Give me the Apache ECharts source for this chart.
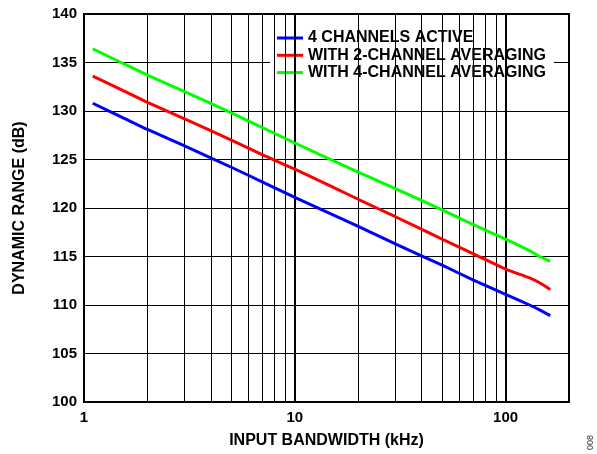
<!DOCTYPE html>
<html>
<head>
<meta charset="utf-8">
<script src="https://cdn.jsdelivr.net/npm/echarts@6/dist/echarts.min.js"></script>
<style>html,body{margin:0;padding:0;background:#fff}#c{width:597px;height:454px}</style>
</head>
<body>
<div id="c"></div>
<script>
// Data
const bandwidthKHz = [1.1, 1.5, 2, 3, 5, 7, 10, 20, 30, 50, 70, 100, 130, 145, 163];
const fourChannelsActive = [130.8, 129.4, 128.1, 126.4, 124.2, 122.7, 121.1, 118.1, 116.3, 114.1, 112.6, 111.1, 110.0, 109.5, 108.9];
const twoChannelAvg = [133.6, 132.2, 130.9, 129.2, 127.0, 125.5, 124.0, 120.9, 119.1, 116.8, 115.3, 113.7, 112.8, 112.3, 111.6];
const fourChannelAvg = [136.4, 135.0, 133.7, 132.0, 129.8, 128.3, 126.7, 123.7, 122.0, 119.8, 118.3, 116.8, 115.6, 115.0, 114.5];
const seriesNames = ['4 CHANNELS ACTIVE', 'WITH 2-CHANNEL AVERAGING', 'WITH 4-CHANNEL AVERAGING'];
const minorGridX = [2, 3, 4, 5, 6, 7, 8, 9, 20, 30, 40, 50, 60, 70, 80, 90];
const majorGridX = [10, 100];
const xLabels = [1, 10, 100];

const pair = (xs, ys) => xs.map((x, i) => [x, ys[i]]);
const font = 'Liberation Sans, Arial, sans-serif';

const chart = echarts.init(document.getElementById('c'), null, {renderer: 'canvas'});
chart.setOption({
  animation: false,
  backgroundColor: '#fff',
  grid: {left: 84, top: 14, right: 28, bottom: 52, show: true, borderColor: '#000', borderWidth: 2, backgroundColor: 'transparent'},
  legend: {
    orient: 'vertical', left: 270, top: 24,
    padding: [6, 8, 5, 7], itemGap: 1.3,
    backgroundColor: '#fff',
    icon: 'rect', itemWidth: 26, itemHeight: 3,
    textStyle: {fontFamily: font, fontWeight: 'bold', fontSize: 16, color: '#000'},
    data: seriesNames
  },
  xAxis: {
    type: 'log', logBase: 10, min: 1, max: 200,
    name: 'INPUT BANDWIDTH (kHz)', nameLocation: 'middle', nameGap: 31,
    nameTextStyle: {fontFamily: font, fontWeight: 'bold', fontSize: 16, color: '#000'},
    axisLine: {show: true, lineStyle: {color: '#000', width: 2}},
    axisTick: {show: false},
    splitLine: {show: false},
    axisLabel: {
      fontFamily: font, fontWeight: 'bold', fontSize: 15, color: '#000', margin: 8,
      formatter: v => xLabels.some(l => Math.abs(l - v) < 1e-6) ? String(Math.round(v)) : ''
    }
  },
  yAxis: {
    type: 'value', min: 100, max: 140, interval: 5,
    name: 'DYNAMIC RANGE (dB)', nameLocation: 'middle', nameGap: 56,
    nameTextStyle: {fontFamily: font, fontWeight: 'bold', fontSize: 16, color: '#000'},
    axisLine: {show: true, lineStyle: {color: '#000', width: 2}},
    axisTick: {show: false},
    splitLine: {show: true, lineStyle: {color: '#000', width: 1}},
    axisLabel: {fontFamily: font, fontWeight: 'bold', fontSize: 15, color: '#000', margin: 7}
  },
  series: [
    {
      name: 'grid-minor', type: 'line', data: [], silent: true,
      markLine: {
        silent: true, symbol: ['none', 'none'], label: {show: false},
        lineStyle: {color: '#000', width: 1, type: 'solid'},
        data: minorGridX.map(v => ({xAxis: v}))
      }
    },
    {
      name: 'grid-major', type: 'line', data: [], silent: true,
      markLine: {
        silent: true, symbol: ['none', 'none'], label: {show: false},
        lineStyle: {color: '#000', width: 2, type: 'solid'},
        data: majorGridX.map(v => ({xAxis: v}))
      }
    },
    {name: seriesNames[0], type: 'line', data: pair(bandwidthKHz, fourChannelsActive), showSymbol: false, smooth: 0.2, color: '#0000ff', lineStyle: {width: 3}, z: 5},
    {name: seriesNames[1], type: 'line', data: pair(bandwidthKHz, twoChannelAvg), showSymbol: false, smooth: 0.2, color: '#ff0000', lineStyle: {width: 3}, z: 5},
    {name: seriesNames[2], type: 'line', data: pair(bandwidthKHz, fourChannelAvg), showSymbol: false, smooth: 0.2, color: '#00ff00', lineStyle: {width: 3}, z: 5}
  ],
  graphic: [{
    type: 'text', x: 586, y: 450, rotation: Math.PI / 2,
    style: {text: '008', fontFamily: font, fontSize: 9, fill: '#333'}
  }]
});
</script>
</body>
</html>
